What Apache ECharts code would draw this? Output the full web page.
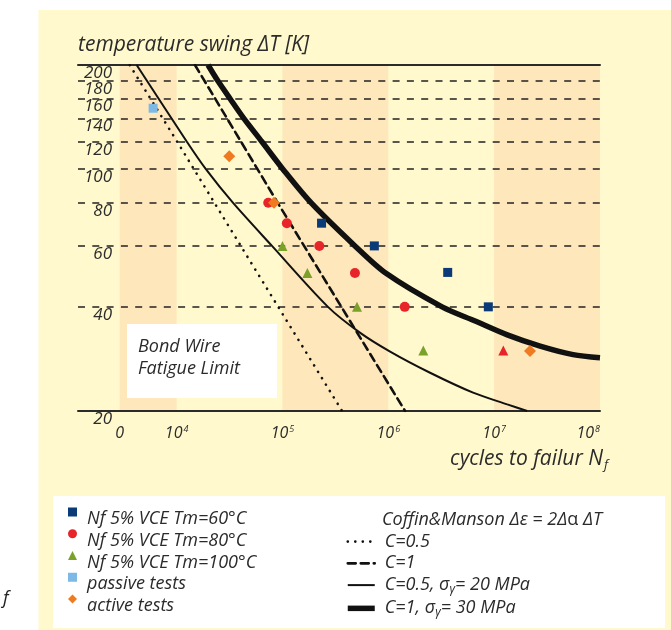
<!DOCTYPE html>
<html>
<head>
<meta charset="utf-8">
<script src="https://cdn.jsdelivr.net/npm/echarts@6/dist/echarts.min.js"></script>
<style>
html, body { margin: 0; padding: 0; background: #fff; }
#chart { width: 671px; height: 630px; }
</style>
</head>
<body>
<div id="chart"></div>
<script>
// cycles to failure (x, log) vs temperature swing in K (y, log)
const xTickValues = [2900, 1e4, 1e5, 1e6, 1e7, 1e8]
const xTickBase = ['0', '10', '10', '10', '10', '10']
const xTickExp = ['', '4', '5', '6', '7', '8']
const yLabelValues = [20, 40, 60, 80, 100, 120, 140, 160, 180, 200]
const yGridValues = [40, 60, 80, 100, 120, 140, 160, 180]

// measured points [Nf, dT]
const tm60 = [[234000, 69.8], [738000, 60], [3640000, 50.3], [8810000, 40]]
const tm80 = [[73400, 80], [110000, 69.8], [223000, 60], [484000, 50.1], [1430000, 40]]
const tm80Tri = [[12200000, 29.9]]
const tm100 = [[100000, 60], [172000, 50.1], [506000, 40], [2140000, 29.9]]
const passive = [[6000, 150]]
const active = [[31400, 109], [83200, 80], [21800000, 29.8]]

// Coffin & Manson curves [Nf, dT]
const c05 = [[3600, 200], [10300, 119], [31700, 67.7], [366000, 20]]
const c1 = [[14900, 200], [90000, 80], [1440000, 20]]
const c05s20 = [[4190, 200], [12500, 120], [18900, 100], [34000, 80], [79600, 60], [269000, 40],
  [539000, 33.7], [1040000, 29.7], [2480000, 25.8], [6320000, 22.6], [13300000, 20.9], [20500000, 20]]
const c1s30 = [[19800, 200], [24500, 180], [31900, 160], [43300, 140], [64000, 120], [101000, 100],
  [186000, 80], [484000, 60], [951000, 50], [3220000, 40], [6610000, 36.4], [13300000, 33.2],
  [27200000, 30.8], [55700000, 29.1], [100000000, 28.5]]

const FONT = '"Open Sans", "DejaVu Sans", sans-serif'
const INK = '#2b2b2b'
const BAND = '#fde7bb'
const PANEL = '#fff9cd'

const chart = echarts.init(document.getElementById('chart'))

function scatter(name, symbol, size, color, data) {
  return {
    type: 'scatter', name, symbol, symbolSize: size, z: 10,
    itemStyle: { color, opacity: 1 },
    data
  }
}

function curve(name, data, width, type, smooth) {
  return {
    type: 'line', name, data, smooth, z: 8,
    symbol: 'none', showSymbol: false,
    lineStyle: { color: '#111', width, type, cap: type === 'solid' ? 'butt' : 'round' },
    itemStyle: { color: '#111' }
  }
}

// two label-only y axes so that the tightly packed labels at the top are not dropped
function yAxisFor(labels, withName) {
  const ax = {
    type: 'log', logBase: 10, min: 20, max: 200, position: 'left', offset: 0,
    axisLine: { show: false }, axisTick: { show: false }, splitLine: { show: false },
    axisLabel: {
      customValues: labels, margin: -34, align: 'right', verticalAlign: 'top',
      showMinLabel: true, showMaxLabel: true, lineHeight: 16,
      fontFamily: FONT, fontStyle: 'italic', fontSize: 17, color: INK
    }
  }
  if (withName) {
    ax.name = 'temperature swing \u0394T [K]'
    ax.nameLocation = 'end'
    ax.nameGap = 20
    ax.nameTextStyle = { align: 'left', verticalAlign: 'middle', fontFamily: FONT, fontStyle: 'italic', fontSize: 21, color: INK }
  }
  return ax
}

const redData = tm80.map(p => ({ value: p })).concat(tm80Tri.map(p => ({ value: p, symbol: 'triangle' })))

const legendText = {
  fontFamily: FONT, fontStyle: 'italic', fontSize: 18, color: INK,
  rich: {
    a: { fontFamily: FONT, fontStyle: 'italic', fontSize: 18, color: INK },
    g: { fontFamily: FONT, fontSize: 18, color: INK },
    sub: { fontFamily: FONT, fontSize: 12, color: INK, padding: [9, 0, 0, 0] }
  }
}

chart.setOption({
  backgroundColor: '#fff',
  animation: false,
  grid: { left: 78, right: 71, top: 65, bottom: 219, containLabel: false, outerBoundsMode: 'none' },
  xAxis: [{
    type: 'log', logBase: 10, min: 1170, max: 1e8, position: 'bottom',
    axisLine: { show: true, lineStyle: { color: INK, width: 2 } },
    axisTick: { show: false, customValues: xTickValues },
    splitLine: { show: false },
    splitArea: { show: true, areaStyle: { color: [BAND, 'rgba(0,0,0,0)'] } },
    axisLabel: {
      customValues: xTickValues, margin: 14, color: INK, alignMaxLabel: 'right',
      formatter: v => {
        const i = xTickValues.findIndex(t => Math.abs(Math.log10(t) - Math.log10(v)) < 0.01)
        if (i < 0) return ''
        return '{b|' + xTickBase[i] + '}' + (xTickExp[i] ? '{s|' + xTickExp[i] + '}' : '')
      },
      rich: {
        b: { fontFamily: FONT, fontStyle: 'italic', fontSize: 16, color: INK },
        s: { fontFamily: FONT, fontStyle: 'italic', fontSize: 9, color: INK, verticalAlign: 'top', padding: [0, 0, 0, 1] }
      }
    },
    name: '{t|cycles to failur N}{f|f}',
    nameLocation: 'end', nameGap: 8,
    nameTextStyle: {
      align: 'right', verticalAlign: 'top', padding: [36, 0, 0, 0],
      rich: {
        t: { fontFamily: FONT, fontStyle: 'italic', fontSize: 21, color: INK },
        f: { fontFamily: FONT, fontStyle: 'italic', fontSize: 13, color: INK, padding: [12, 0, 0, 1] }
      }
    }
  }, {
    type: 'log', logBase: 10, min: 1170, max: 1e8, position: 'top',
    axisLine: { show: true, lineStyle: { color: INK, width: 2 } },
    axisTick: { show: false }, axisLabel: { show: false }, splitLine: { show: false }
  }],
  yAxis: [
    yAxisFor(yLabelValues.filter((v, i) => i % 2 === 0), true),
    yAxisFor(yLabelValues.filter((v, i) => i % 2 === 1), false)
  ],
  legend: [{
    orient: 'vertical', left: 68, top: 507.5, padding: 0,
    itemWidth: 9, itemHeight: 9, itemGap: 1.25,
    data: ['Nf 5% VCE Tm=60\u00b0C', 'Nf 5% VCE Tm=80\u00b0C', 'Nf 5% VCE Tm=100\u00b0C', 'passive tests', 'active tests'],
    textStyle: Object.assign({}, legendText, { padding: [14, 0, 0, 5] })
  }, {
    orient: 'vertical', left: 345, top: 532.6, padding: 0,
    itemWidth: 27, itemHeight: 10, itemGap: 3.75,
    itemStyle: { opacity: 0 },
    lineStyle: { width: 'inherit' },
    data: ['C=0.5', 'C=1', 'C=0.5, \u03c3\u03b3= 20 MPa', 'C=1, \u03c3\u03b3= 30 MPa'],
    formatter: n => n.indexOf('\u03c3') < 0 ? '{a|' + n + '}'
      : '{a|' + n.split('\u03c3')[0] + '}{g|\u03c3}{sub|\u03b3}{a|' + n.split('\u03b3')[1] + '}',
    textStyle: Object.assign({}, legendText, { padding: [0, 0, 0, 5] })
  }],
  graphic: [
    { type: 'rect', z: -20, shape: { x: 38.5, y: 10, width: 633, height: 620 }, style: { fill: PANEL } },
    { type: 'rect', z: -19, shape: { x: 53, y: 496, width: 612, height: 132 }, style: { fill: '#fff' } },
    { type: 'rect', z: 20, shape: { x: 127, y: 324, width: 150, height: 74 }, style: { fill: '#fff' } },
    { type: 'text', z: 21, x: 138, y: 347, style: { text: 'Bond Wire', fill: INK, font: 'italic 18px ' + FONT, verticalAlign: 'middle' } },
    { type: 'text', z: 21, x: 138, y: 369, style: { text: 'Fatigue Limit', fill: INK, font: 'italic 18px ' + FONT, verticalAlign: 'middle' } },
    {
      type: 'text', z: 21, x: 382, y: 520,
      style: {
        text: '{a|Coffin&Manson \u0394\u03b5 = 2\u0394}{g|\u03b1}{a| \u0394T}', verticalAlign: 'middle',
        rich: {
          a: { fontFamily: FONT, fontStyle: 'italic', fontSize: 18, fill: INK },
          g: { fontFamily: FONT, fontSize: 18, fill: INK }
        }
      }
    },
    { type: 'text', z: 21, x: 3, y: 599, style: { text: 'f', fill: '#222', font: 'italic 18px ' + FONT, verticalAlign: 'middle' } }
  ],
  series: [
    {
      type: 'line', name: 'grid', data: [], z: 2, silent: true,
      markLine: {
        silent: true, symbol: ['none', 'none'], label: { show: false }, animation: false,
        lineStyle: { color: '#222', width: 1.6, type: [7, 7.3] },
        emphasis: { disabled: true },
        data: yGridValues.map(v => ({ yAxis: v }))
      }
    },
    curve('C=0.5', c05, 2.6, [0.1, 7.4], false),
    curve('C=1', c1, 2.6, [8, 5], false),
    curve('C=0.5, \u03c3\u03b3= 20 MPa', c05s20, 2, 'solid', 0.3),
    curve('C=1, \u03c3\u03b3= 30 MPa', c1s30, 5.5, 'solid', 0.3),
    scatter('Nf 5% VCE Tm=60\u00b0C', 'rect', 9, '#0b3a78', tm60),
    scatter('Nf 5% VCE Tm=80\u00b0C', 'circle', 10, '#e8242b', redData),
    scatter('Nf 5% VCE Tm=100\u00b0C', 'triangle', 10, '#7aa12a', tm100),
    scatter('passive tests', 'rect', 9, '#7db9e6', passive),
    scatter('active tests', 'diamond', 12, '#f07a20', active)
  ]
})
</script>
</body>
</html>
